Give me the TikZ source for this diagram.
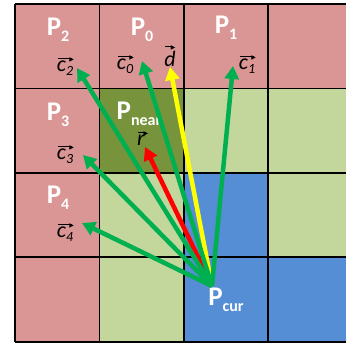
\documentclass[tikz,border=0pt]{standalone}
\usepackage{fontspec}
\setmainfont{Carlito}
\newfontfamily\symf{DejaVu Sans}
\usetikzlibrary{arrows.meta}
\definecolor{cpink}{RGB}{217,150,148}
\definecolor{clgreen}{RGB}{195,214,155}
\definecolor{cdgreen}{RGB}{119,147,60}
\definecolor{cblue}{RGB}{85,142,213}
\definecolor{carrow}{RGB}{0,176,80}
\definecolor{cyel}{RGB}{255,255,0}
\newcommand{\varr}[2]{\makebox[0pt][l]{\raisebox{#2}{\hspace{1pt}\rule[2pt]{#1}{1pt}\hspace{-2.5pt}{\symf\fontsize{6}{6}\selectfont ▶}}}}
\newcommand{\vlab}[2]{\varr{14pt}{10pt}\textit{#1}\raisebox{-4pt}{\fontsize{14}{14}\selectfont\textit{#2}}}
\newcommand{\psub}[1]{\raisebox{-6pt}{\fontsize{16}{16}\selectfont #1}}
\tikzset{
  plab/.style={text=white, font=\fontsize{27}{27}\selectfont\bfseries, inner sep=0pt, anchor=base},
  vlabel/.style={text=black, font=\fontsize{22}{22}\selectfont, inner sep=0pt, anchor=base},
  vec/.style={line width=4.5pt, -{Triangle[length=13pt,width=14pt]}},
  gridline/.style={line width=1.8pt, black}
}
\begin{document}
\begin{tikzpicture}[x=1pt,y=-1pt]
\useasboundingbox (0,0) rectangle (346,346);
\fill[white] (0,0) rectangle (346,346);
\clip (0,0) rectangle (346,346);
\def\xo{15}\def\yo{4}\def\cs{84.4}
\foreach \c/\r/\col in {0/0/cpink,1/0/cpink,2/0/cpink,3/0/cpink,
  0/1/cpink,1/1/cdgreen,2/1/clgreen,3/1/clgreen,
  0/2/cpink,1/2/clgreen,2/2/cblue,3/2/clgreen,
  0/3/cpink,1/3/clgreen,2/3/cblue,3/3/cblue}{
  \fill[\col] ({\xo+\c*\cs},{\yo+\r*\cs}) rectangle ({\xo+(\c+1)*\cs},{\yo+(\r+1)*\cs});
}
\foreach \i in {0,...,4}{
  \draw[gridline] ({\xo+\i*\cs},\yo) -- ({\xo+\i*\cs},{\yo+4*\cs});
  \draw[gridline] (\xo,{\yo+\i*\cs}) -- ({\xo+4*\cs},{\yo+\i*\cs});
}
% region labels
\node[plab] (p2) at (58,35) {P\psub{2}};
\node[plab] (p0) at (142,35) {P\psub{0}};
\node[plab] (p1) at (226,33) {P\psub{1}};
\node[plab] (p3) at (58,120) {P\psub{3}};
\node[plab] (pnear) at (139,119) {P\psub{near}};
\node[plab] (p4) at (58,203) {P\psub{4}};
\node[plab] (pcurl) at (226,305) {P\psub{cur}};
% vector labels
\node[vlabel] (lc2) at (65,71) {\vlab{c}{2}};
\node[vlabel] (lc0) at (125,69) {\vlab{c}{0}};
\node[vlabel] (ld) at (170,66) {\varr{8pt}{17pt}\textit{d}};
\node[vlabel] (lc1) at (247,69) {\vlab{c}{1}};
\node[vlabel] (lc3) at (65,159) {\vlab{c}{3}};
\node[vlabel] (lr) at (141,145) {\varr{8pt}{10pt}\textit{r}};
\node[vlabel] (lc4) at (65,237) {\vlab{c}{4}};
% arrows
\coordinate (pcur) at (212,286);
\coordinate (tc2) at (77,68);
\coordinate (tc0) at (142,61);
\coordinate (td) at (170,67);
\coordinate (tc1) at (233,66);
\coordinate (tc3) at (83,155);
\coordinate (tr) at (145,147);
\coordinate (tc4) at (82,223);
\draw[vec, red] (pcur) -- (tr);
\draw[vec, cyel] (pcur) -- (td);
\foreach \t in {tc2,tc0,tc1,tc3,tc4}{
  \draw[vec, carrow] (pcur) -- (\t);
}
\end{tikzpicture}
\end{document}
